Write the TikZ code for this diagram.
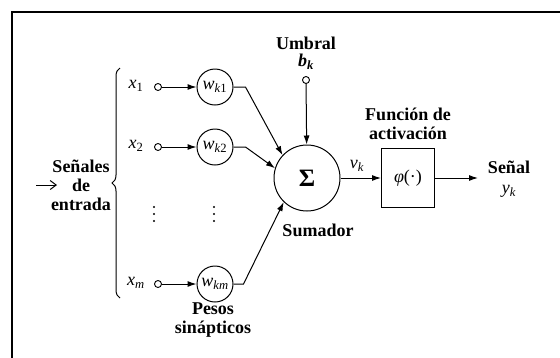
\documentclass[tikz,border=0pt]{standalone}
\usepackage{fontspec}
\setmainfont{Liberation Serif}
\usetikzlibrary{arrows.meta,decorations.pathreplacing}
\newcommand{\vsub}[2]{\textit{#1}\textsubscript{#2}}

\begin{document}
\begin{tikzpicture}[x=1pt,y=-1pt,
		font=\fontsize{18}{20}\selectfont,
		>={Latex[length=9pt,width=6pt]},
		line width=1pt,
		peso/.style={draw,circle,minimum size=36pt,inner sep=0pt},
		punto/.style={draw,circle,fill=white,minimum size=7pt,inner sep=0pt,line width=0.9pt},
		etiq/.style={font=\fontsize{18}{19}\selectfont\bfseries,align=center}]
		\useasboundingbox (0,0) rectangle (560,357);
		\draw[line width=2.5pt] (12,360) -- (12,12) -- (563,12);

		% entradas
		\node(x1) at (136,86) {\vsub{x}{1}};
		\node(x2) at (136,146) {\vsub{x}{2}};
		\node(xm) at (136,283) {\vsub{x}{\textit{m}}};
		\node[punto](p1) at (158,87) {};
		\node[punto](p2) at (158,147) {};
		\node[punto](pm) at (158,284) {};

		% pesos
		\node[peso](w1) at (215,87) {\vsub{w}{\textit{k}1}};
		\node[peso](w2) at (215,147) {\vsub{w}{\textit{k}2}};
		\node[peso](wm) at (215,284) {\vsub{w}{\textit{km}}};
		\node[etiq](pesos) at (213,320) {Pesos\\sinápticos};

		% puntos suspensivos
		\foreach \px in {154,214}
			\foreach \py in {207,214,221}
				\fill (\px,\py) circle (1.2pt);

		% sumador y umbral
		\node[draw,circle,minimum size=66pt,inner sep=0pt](sum) at (307,178) {\fontsize{25}{25}\selectfont\bfseries Σ};
		\node[etiq](suma) at (318,230) {Sumador};
		\node[etiq](umb) at (306,43) {Umbral};
		\node(bk) at (306,62) {\textbf{\vsub{b}{\textit{k}}}};
		\node[punto](pb) at (306,80) {};

		% activacion
		\node[draw,minimum width=53pt,minimum height=59pt](phi) at (408,178) {\textit{φ}(·)};
		\node[etiq](fun) at (408,124) {Función de\\activación};
		\node(vk) at (357,166) {\vsub{v}{\textit{k}}};
		\coordinate(out) at (478,178);
		\node[align=center](sen) at (509,179) {\textbf{Señal}\\\vsub{y}{\textit{k}}};

		% senales de entrada
		\node[etiq](ent) at (81,185) {Señales\\de\\entrada};
		\coordinate(a0) at (36,185);
		\coordinate(a1) at (57,185);

		\draw[decorate,decoration={brace,amplitude=8pt}] (120,298) -- (120,68);
		\draw[-{Straight Barb[length=6pt,width=9pt]}] (a0) -- (a1);

		\draw[->] (p1) -- (w1);
		\draw[->] (p2) -- (w2);
		\draw[->] (pm) -- (wm);
		\draw[->] (w1.east) -- ++(12,0) -- (sum.137);
		\draw[->] (w2.east) -- ++(12,0) -- (sum.163);
		\draw[->] (wm.east) -- ++(10,0) -- (sum.226);
		\draw[->] (pb) -- (sum);
		\draw[->] (sum) -- (phi);
		\draw[->] (phi) -- (out);
	\end{tikzpicture}
\end{document}
